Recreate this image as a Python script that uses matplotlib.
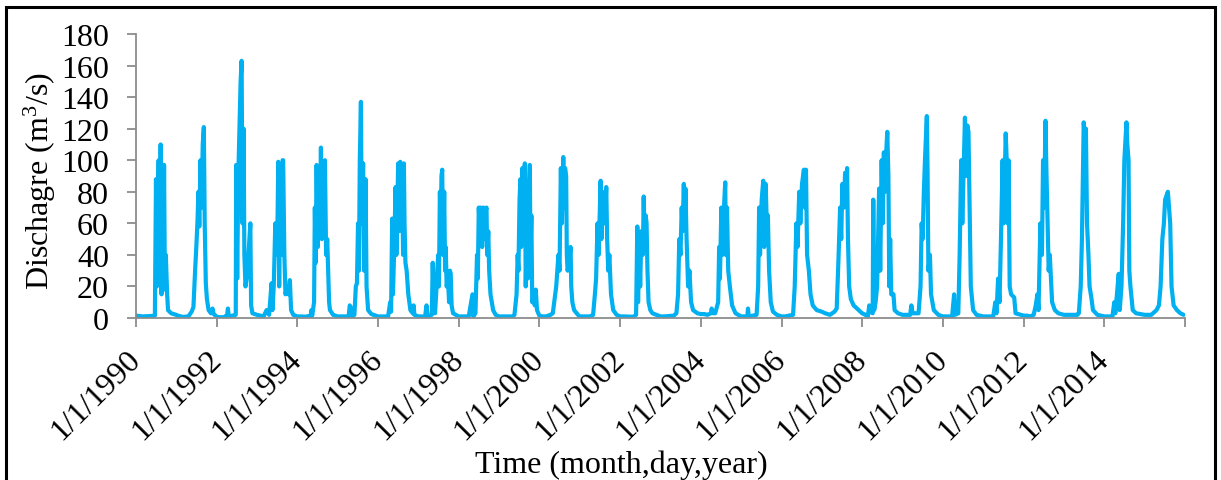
import matplotlib
matplotlib.use("Agg")
import matplotlib.pyplot as plt
import matplotlib.patches as mpatches
import pandas as pd

plt.rcParams['font.family'] = ['Liberation Serif', 'DejaVu Serif']
plt.rcParams['mathtext.fontset'] = 'custom'
plt.rcParams['mathtext.rm'] = 'Liberation Serif'
plt.rcParams['mathtext.it'] = 'Liberation Serif:italic'

# ---- data ----
dates = [
    # 1990
    "1990-01-01", "1990-03-01", "1990-05-01", "1990-06-21", "1990-07-01", "1990-07-08", "1990-07-15", "1990-07-25",
    "1990-08-05", "1990-08-12", "1990-08-20", "1990-08-28", "1990-09-05", "1990-09-12", "1990-09-20", "1990-09-28",
    "1990-10-10", "1990-10-18", "1990-11-15", "1990-12-31",
    # 1991
    "1991-01-15", "1991-03-01", "1991-04-20", "1991-05-20", "1991-06-05", "1991-06-20", "1991-07-01", "1991-07-12",
    "1991-07-20", "1991-07-28", "1991-08-08", "1991-08-18", "1991-08-28", "1991-09-07", "1991-09-15", "1991-09-25",
    "1991-10-05", "1991-10-20", "1991-11-10", "1991-11-25", "1991-12-05", "1991-12-31",
    # 1992
    "1992-01-15", "1992-03-10", "1992-04-05", "1992-04-12", "1992-04-20", "1992-06-22", "1992-06-26", "1992-07-05",
    "1992-07-15", "1992-07-25", "1992-08-05", "1992-08-14", "1992-08-22", "1992-09-01", "1992-09-08", "1992-09-18",
    "1992-09-28", "1992-10-05", "1992-11-01", "1992-11-08", "1992-11-20", "1992-12-31",
    # 1993
    "1993-01-31", "1993-03-01", "1993-03-28", "1993-04-20", "1993-05-12", "1993-05-20", "1993-06-01", "1993-06-15",
    "1993-07-01", "1993-07-12", "1993-07-20", "1993-07-30", "1993-08-10", "1993-08-20", "1993-08-25", "1993-09-05",
    "1993-09-15", "1993-09-25", "1993-10-12", "1993-10-25", "1993-11-05", "1993-11-25", "1993-12-31",
    # 1994
    "1994-01-31", "1994-03-15", "1994-05-01", "1994-05-08", "1994-05-15", "1994-06-01", "1994-06-08", "1994-06-15",
    "1994-06-24", "1994-07-05", "1994-07-15", "1994-07-25", "1994-08-02", "1994-08-10", "1994-08-20", "1994-08-28",
    "1994-09-07", "1994-09-18", "1994-09-28", "1994-10-07", "1994-10-15", "1994-10-23", "1994-11-20", "1994-12-31",
    # 1995
    "1995-01-31", "1995-04-10", "1995-04-20", "1995-04-28", "1995-05-10", "1995-06-01", "1995-06-14", "1995-06-24",
    "1995-07-04", "1995-07-12", "1995-07-20", "1995-07-30", "1995-08-06", "1995-08-19", "1995-08-28", "1995-09-10",
    "1995-09-19", "1995-10-03", "1995-11-01", "1995-12-31",
    # 1996
    "1996-04-01", "1996-04-20", "1996-04-28", "1996-05-08", "1996-05-15", "1996-05-25", "1996-06-08", "1996-06-15",
    "1996-06-22", "1996-07-01", "1996-07-10", "1996-07-20", "1996-07-28", "1996-08-05", "1996-08-15", "1996-08-22",
    "1996-08-28", "1996-09-05", "1996-09-16", "1996-10-01", "1996-10-20", "1996-11-10", "1996-11-18", "1996-11-25",
    "1996-12-31",
    # 1997
    "1997-01-31", "1997-03-01", "1997-03-15", "1997-03-25", "1997-05-02", "1997-05-10", "1997-05-20", "1997-05-31",
    "1997-06-10", "1997-06-20", "1997-06-29", "1997-07-05", "1997-07-14", "1997-07-22", "1997-07-28", "1997-08-04",
    "1997-08-12", "1997-08-22", "1997-08-30", "1997-09-05", "1997-09-13", "1997-09-25", "1997-10-05", "1997-10-13",
    "1997-10-20", "1997-10-28", "1997-11-10", "1997-12-31",
    # 1998
    "1998-01-31", "1998-04-01", "1998-05-05", "1998-05-12", "1998-06-01", "1998-06-15", "1998-06-22", "1998-07-01",
    "1998-07-10", "1998-07-20", "1998-08-01", "1998-08-10", "1998-08-20", "1998-09-01", "1998-09-09", "1998-09-15",
    "1998-09-25", "1998-10-03", "1998-10-15", "1998-11-08", "1998-12-01", "1998-12-31",
    # 1999
    "1999-05-01", "1999-05-20", "1999-06-08", "1999-06-18", "1999-06-25", "1999-07-05", "1999-07-13", "1999-07-20",
    "1999-07-30", "1999-08-08", "1999-08-15", "1999-08-22", "1999-08-30", "1999-09-10", "1999-09-18", "1999-09-28",
    "1999-10-06", "1999-10-12", "1999-10-20", "1999-10-28", "1999-11-10", "1999-11-20", "1999-11-29", "1999-12-10",
    "1999-12-31",
    # 2000
    "2000-01-31", "2000-03-01", "2000-04-10", "2000-05-01", "2000-06-01", "2000-06-21", "2000-07-01", "2000-07-13",
    "2000-07-22", "2000-08-04", "2000-08-12", "2000-08-20", "2000-08-30", "2000-09-05", "2000-09-12", "2000-09-25",
    "2000-10-09", "2000-10-15", "2000-10-25", "2000-11-10", "2000-12-15", "2000-12-31",
    # 2001
    "2001-01-31", "2001-04-01", "2001-05-01", "2001-05-17", "2001-05-28", "2001-06-10", "2001-06-20", "2001-07-08",
    "2001-07-15", "2001-07-25", "2001-08-05", "2001-08-15", "2001-08-28", "2001-09-05", "2001-09-15", "2001-09-25",
    "2001-10-10", "2001-10-30", "2001-11-30", "2001-12-31",
    # 2002
    "2002-01-31", "2002-05-01", "2002-05-25", "2002-06-05", "2002-06-12", "2002-06-22", "2002-07-01", "2002-07-12",
    "2002-07-25", "2002-08-02", "2002-08-10", "2002-08-20", "2002-08-28", "2002-09-05", "2002-09-15", "2002-10-01",
    "2002-10-20", "2002-12-31",
    # 2003
    "2003-01-31", "2003-05-01", "2003-05-25", "2003-06-09", "2003-06-20", "2003-07-01", "2003-07-12", "2003-07-20",
    "2003-07-31", "2003-08-08", "2003-08-15", "2003-08-25", "2003-09-08", "2003-09-20", "2003-10-05", "2003-10-23",
    "2003-12-01", "2003-12-31",
    # 2004
    "2004-01-31", "2004-03-01", "2004-04-01", "2004-04-08", "2004-04-20", "2004-05-10", "2004-06-06", "2004-06-15",
    "2004-06-22", "2004-07-05", "2004-07-15", "2004-07-25", "2004-08-09", "2004-08-15", "2004-08-25", "2004-09-05",
    "2004-09-20", "2004-10-10", "2004-11-10", "2004-12-31",
    # 2005
    "2005-01-31", "2005-02-25", "2005-03-03", "2005-03-10", "2005-05-20", "2005-06-03", "2005-06-12", "2005-06-20",
    "2005-07-05", "2005-07-19", "2005-07-28", "2005-08-10", "2005-08-20", "2005-08-30", "2005-09-10", "2005-09-25",
    "2005-10-15", "2005-11-20", "2005-12-31",
    # 2006
    "2006-01-31", "2006-04-15", "2006-04-30", "2006-05-15", "2006-05-25", "2006-06-10", "2006-06-20", "2006-07-05",
    "2006-07-22", "2006-08-01", "2006-08-10", "2006-08-20", "2006-09-05", "2006-09-20", "2006-10-10", "2006-11-15",
    "2006-12-31",
    # 2007
    "2007-01-31", "2007-03-15", "2007-04-25", "2007-05-15", "2007-05-30", "2007-06-15", "2007-06-25", "2007-07-05",
    "2007-07-20", "2007-07-30", "2007-08-10", "2007-08-17", "2007-08-25", "2007-09-05", "2007-09-20", "2007-10-15",
    "2007-11-15", "2007-12-15", "2007-12-31",
    # 2008
    "2008-01-31", "2008-02-20", "2008-03-05", "2008-03-15", "2008-04-05", "2008-04-10", "2008-04-18", "2008-05-01",
    "2008-05-15", "2008-06-02", "2008-06-12", "2008-06-25", "2008-07-05", "2008-07-15", "2008-07-25", "2008-08-05",
    "2008-08-15", "2008-08-25", "2008-09-02", "2008-09-10", "2008-09-20", "2008-10-10", "2008-10-20", "2008-11-20",
    "2008-12-31",
    # 2009
    "2009-01-31", "2009-03-10", "2009-03-21", "2009-04-01", "2009-05-25", "2009-06-12", "2009-06-22", "2009-07-01",
    "2009-07-12", "2009-07-22", "2009-08-08", "2009-08-15", "2009-08-22", "2009-09-05", "2009-09-15", "2009-10-10",
    "2009-11-20", "2009-12-31",
    # 2010
    "2010-01-31", "2010-03-25", "2010-04-12", "2010-04-20", "2010-05-20", "2010-06-01", "2010-06-15", "2010-06-25",
    "2010-07-19", "2010-07-28", "2010-08-10", "2010-08-20", "2010-09-01", "2010-09-10", "2010-10-01", "2010-11-01",
    "2010-12-31",
    # 2011
    "2011-01-31", "2011-04-01", "2011-04-20", "2011-05-01", "2011-05-15", "2011-05-28", "2011-06-10", "2011-06-25",
    "2011-07-05", "2011-07-23", "2011-08-01", "2011-08-10", "2011-08-18", "2011-08-28", "2011-09-10", "2011-10-08",
    "2011-10-20", "2011-12-31",
    # 2012
    "2012-01-31", "2012-03-01", "2012-04-01", "2012-04-20", "2012-05-05", "2012-05-15", "2012-06-01", "2012-06-15",
    "2012-06-25", "2012-07-05", "2012-07-17", "2012-07-25", "2012-08-05", "2012-08-15", "2012-08-25", "2012-09-15",
    "2012-10-10", "2012-11-10", "2012-12-31",
    # 2013
    "2013-01-31", "2013-04-01", "2013-05-01", "2013-05-15", "2013-06-01", "2013-06-12", "2013-06-28", "2013-07-08",
    "2013-07-18", "2013-07-28", "2013-08-10", "2013-08-20", "2013-09-05", "2013-09-20", "2013-10-30", "2013-12-31",
    # 2014
    "2014-01-31", "2014-03-15", "2014-04-01", "2014-04-10", "2014-04-25", "2014-05-11", "2014-05-20", "2014-06-05",
    "2014-06-20", "2014-07-01", "2014-07-20", "2014-07-28", "2014-08-08", "2014-08-15", "2014-08-25", "2014-09-15",
    "2014-10-15", "2014-12-31",
    # 2015
    "2015-01-31", "2015-03-01", "2015-04-18", "2015-05-10", "2015-05-25", "2015-06-10", "2015-06-24", "2015-07-05",
    "2015-07-30", "2015-08-10", "2015-08-20", "2015-09-01", "2015-09-20", "2015-10-20", "2015-11-20", "2015-12-20",
]

discharge = [
    # 1990
    1.5, 1.0, 1.2, 1.5, 88, 20, 60, 100, 25, 110, 15, 55, 20, 97, 18, 40, 15, 5, 3, 2,
    # 1991
    1.5, 0.7, 1.0, 4, 7, 30, 45, 62, 80, 58, 100, 70, 110, 121, 60, 22, 12, 5, 3, 6, 2.5, 1,
    # 1992
    0.5, 0.5, 2, 6, 1, 2, 97, 25, 90, 120, 150, 163, 60, 120, 40, 20, 25, 28, 60, 8, 3, 2,
    # 1993
    1.5, 1, 5, 2, 22, 5, 20, 60, 40, 99, 20, 97, 40, 100, 100, 40, 15, 18, 15, 24, 5, 2, 1,
    # 1994
    1, 0.8, 1.5, 5, 1.5, 10, 70, 35, 97, 45, 90, 60, 108, 50, 95, 70, 100, 40, 50, 30, 10, 5, 2, 1,
    # 1995
    1, 1, 8, 7, 1, 2, 20, 22, 60, 30, 100, 137, 60, 98, 30, 88, 20, 5, 2.5, 1,
    # 1996
    1, 10, 4, 63, 15, 40, 83, 40, 60, 98, 55, 99, 60, 90, 40, 98, 60, 35, 30, 15, 5, 3, 8, 2, 1,
    # 1997
    1, 0.5, 8, 1, 2, 35, 8, 3, 15, 30, 40, 20, 80, 50, 90, 94, 40, 80, 30, 45, 20, 25, 10, 30, 28, 8, 3, 1,
    # 1998
    1, 1, 15, 1, 3, 40, 25, 70, 55, 70, 45, 70, 50, 68, 70, 40, 55, 30, 15, 5, 2, 1,
    # 1999
    1, 2, 15, 40, 30, 75, 88, 45, 95, 60, 90, 98, 20, 60, 25, 80, 97, 40, 65, 10, 15, 8, 18, 5, 1.5,
    # 2000
    1, 1, 2, 3, 20, 40, 30, 95, 60, 102, 70, 95, 90, 40, 30, 35, 45, 20, 10, 5, 2, 1,
    # 2001
    1, 1, 2, 15, 25, 60, 40, 87, 50, 80, 70, 60, 83, 50, 30, 40, 15, 5, 2, 1,
    # 2002
    1, 0.8, 2, 58, 10, 50, 20, 55, 40, 77, 50, 65, 60, 30, 10, 5, 3, 1,
    # 2003
    1, 1.5, 3, 15, 50, 40, 70, 55, 85, 60, 82, 50, 20, 30, 10, 5, 3, 2.5,
    # 2004
    2.5, 2, 3, 6, 3, 3, 10, 45, 25, 70, 40, 65, 86, 40, 70, 30, 20, 8, 3, 1,
    # 2005
    1, 1, 6, 1, 2, 20, 70, 40, 75, 87, 45, 85, 60, 65, 30, 10, 4, 2, 1,
    # 2006
    1, 2, 20, 60, 45, 80, 60, 85, 94, 70, 94, 40, 30, 15, 8, 5, 4,
    # 2007
    3, 2, 4, 6, 35, 70, 50, 85, 70, 92, 75, 95, 50, 20, 12, 8, 6, 4, 3,
    # 2008
    2, 0.5, 8, 4, 3, 75, 5, 10, 20, 82, 30, 100, 60, 105, 80, 105, 118, 90, 20, 50, 15, 15, 5, 3, 2,
    # 2009
    2, 2, 8, 3, 3, 20, 60, 50, 80, 100, 128, 90, 30, 40, 15, 5, 2, 1,
    # 2010
    1, 1, 15, 2, 3, 40, 100, 60, 127, 90, 122, 118, 60, 20, 5, 2, 1,
    # 2011
    1, 1, 10, 3, 25, 10, 50, 100, 60, 117, 100, 60, 100, 20, 15, 13, 3, 1.5,
    # 2012
    1.5, 1, 2, 8, 15, 5, 60, 40, 100, 70, 125, 95, 60, 30, 40, 10, 5, 3, 2,
    # 2013
    2, 2, 2, 3, 20, 50, 124, 115, 120, 60, 40, 20, 13, 5, 2, 1,
    # 2014
    1, 1, 10, 3, 15, 28, 5, 20, 60, 100, 124, 110, 100, 30, 20, 5, 3, 2,
    # 2015
    2, 2, 5, 8, 20, 50, 60, 75, 80, 70, 60, 20, 8, 5, 3, 2,
]

tick_years = list(range(1990, 2017, 2))
tick_labels = [f"1/1/{y}" for y in tick_years[:-1]] + [""]

y_ticks = [0, 20, 40, 60, 80, 100, 120, 140, 160, 180]

# ---- figure ----
W, H, DPI = 1221, 481, 100
FS = 23
fig = plt.figure(figsize=(W / DPI, H / DPI), dpi=DPI)
ax = fig.add_axes([136 / W, 1 - 319 / H, (1185 - 136) / W, (319 - 35) / H])

x = pd.to_datetime(dates)
ax.plot(x, discharge, color="#00B0F0", lw=3.0, solid_joinstyle="round",
        solid_capstyle="round")

ax.set_xlim(pd.Timestamp("1990-01-01"), pd.Timestamp("2016-01-01"))
ax.set_ylim(0, 180)
ax.set_yticks(y_ticks)
ax.set_xticks([pd.Timestamp(f"{y}-01-01") for y in tick_years])
ax.set_xticklabels(tick_labels, rotation=45, ha="right", va="center",
                   rotation_mode="anchor")

grey = "#8c8c8c"
for s in ["top", "right"]:
    ax.spines[s].set_visible(False)
for s in ["left", "bottom"]:
    ax.spines[s].set_color(grey)
    ax.spines[s].set_linewidth(1.3)
ax.tick_params(axis="both", colors=grey, labelcolor="black", labelsize=FS,
               length=6.5, width=1.3, direction="out")
ax.tick_params(axis="y", pad=13)
ax.tick_params(axis="x", pad=20)

ax.set_ylabel("Dischagre (m$^3$/s)", fontsize=FS)
ax.yaxis.label.set_va("center")
ax.yaxis.set_label_coords(-0.092, 0.486)
ax.set_xlabel("Time (month,day,year)", fontsize=FS)
ax.xaxis.label.set_va("center")
ax.xaxis.set_label_coords(0.463, -0.515)

# outer frame
frame = mpatches.Rectangle((6 / W, -0.05), (1215 - 6) / W, (H - 8) / H + 0.05,
                           transform=fig.transFigure, fill=False, lw=2.2,
                           edgecolor="black", clip_on=False)
fig.patches.append(frame)

fig.savefig("out.png", dpi=DPI)
